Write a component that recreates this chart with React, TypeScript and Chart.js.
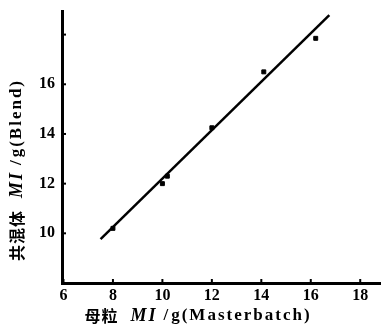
import React, { useEffect, useRef } from "react";
import { Chart, registerables } from "chart.js";

Chart.register(...registerables);

const masterbatchMI = [8, 10, 10.2, 12, 14.1, 16.2];
const blendMI = [10.2, 12.0, 12.3, 14.25, 16.5, 17.85];
const fitX = [7.5, 16.75];
const fitY = [9.77, 18.78];
const xTicks = [6, 8, 10, 12, 14, 16, 18];
const yTicks = [10, 12, 14, 16, 18];
const yLabelled = [10, 12, 14, 16];

const SERIF = "'Liberation Serif', 'DejaVu Serif', serif";
const CJK = "'Noto Sans CJK SC', sans-serif";

type Part = { text: string; font: string; ls: number; gap: number };

const xTitle: Part[] = [
  { text: "母粒", font: `bold 16px ${CJK}`, ls: 1, gap: 12 },
  { text: "MI", font: `italic bold 18px ${SERIF}`, ls: 2, gap: 6 },
  { text: "/", font: `bold 17px ${SERIF}`, ls: 0, gap: 3 },
  { text: "g(Masterbatch)", font: `bold 17px ${SERIF}`, ls: 2, gap: 0 },
];
const yTitle: Part[] = [
  { text: "共混体", font: `bold 16px ${CJK}`, ls: 1, gap: 12 },
  { text: "MI", font: `italic bold 18px ${SERIF}`, ls: 2, gap: 6 },
  { text: "/", font: `bold 17px ${SERIF}`, ls: 0, gap: 3 },
  { text: "g(Blend)", font: `bold 17px ${SERIF}`, ls: 2, gap: 0 },
];

function drawParts(ctx: CanvasRenderingContext2D, parts: Part[], cx: number, cy: number) {
  const c: any = ctx;
  let total = 0;
  const widths = parts.map((p) => {
    ctx.font = p.font;
    c.letterSpacing = p.ls + "px";
    const w = ctx.measureText(p.text).width;
    total += w + p.gap;
    return w;
  });
  let x = cx - total / 2;
  ctx.textBaseline = "middle";
  ctx.textAlign = "left";
  parts.forEach((p, i) => {
    ctx.font = p.font;
    c.letterSpacing = p.ls + "px";
    ctx.fillText(p.text, x, cy);
    x += widths[i] + p.gap;
  });
  c.letterSpacing = "0px";
}

const decorPlugin = {
  id: "decor",
  afterDraw(chart: any) {
    const ctx = chart.ctx as CanvasRenderingContext2D;
    const xs = chart.scales.x;
    const ys = chart.scales.y;
    const area = chart.chartArea;
    ctx.save();
    ctx.fillStyle = "#000";
    ctx.strokeStyle = "#000";
    ctx.lineWidth = 2;
    xTicks.forEach((v) => {
      const px = xs.getPixelForValue(v);
      ctx.beginPath();
      ctx.moveTo(px, area.bottom);
      ctx.lineTo(px, area.bottom - 4);
      ctx.stroke();
    });
    yTicks.forEach((v) => {
      const py = ys.getPixelForValue(v);
      ctx.beginPath();
      ctx.moveTo(area.left, py);
      ctx.lineTo(area.left + 4, py);
      ctx.stroke();
    });
    drawParts(ctx, xTitle, 198, 316);
    ctx.translate(17, 170);
    ctx.rotate(-Math.PI / 2);
    drawParts(ctx, yTitle, 0, 0);
    ctx.restore();
  },
};

export default function App() {
  const ref = useRef<HTMLCanvasElement | null>(null);
  useEffect(() => {
    if (!ref.current) return;
    const chart = new Chart(ref.current, {
      type: "scatter",
      data: {
        datasets: [
          {
            type: "line",
            data: fitX.map((x, i) => ({ x, y: fitY[i] })),
            borderColor: "#000",
            borderWidth: 2.5,
            pointRadius: 0,
            fill: false,
          } as any,
          {
            data: masterbatchMI.map((x, i) => ({ x, y: blendMI[i] })),
            backgroundColor: "#000",
            borderColor: "#000",
            pointStyle: "rect",
            pointRadius: 2.8,
          },
        ],
      },
      options: {
        responsive: false,
        animation: false,
        layout: { autoPadding: false, padding: { top: 11, right: 0, left: 0, bottom: 0 } },
        plugins: { legend: { display: false }, tooltip: { enabled: false } },
        scales: {
          x: {
            type: "linear",
            min: 5.94,
            max: 18.84,
            afterFit: (s: any) => {
              s.height = 44;
              s.paddingLeft = 0;
              s.paddingRight = 0;
            },
            afterBuildTicks: (s: any) => {
              s.ticks = xTicks.map((v) => ({ value: v }));
            },
            grid: { display: false, drawTicks: false, tickLength: 0 },
            border: { display: true, color: "#000", width: 3 },
            ticks: {
              color: "#000",
              padding: 3,
              maxRotation: 0,
              font: { family: SERIF, size: 16, weight: "bold" },
            },
          },
          y: {
            type: "linear",
            min: 8,
            max: 18.95,
            afterFit: (s: any) => {
              s.width = 62;
              s.paddingTop = 0;
              s.paddingBottom = 0;
            },
            afterBuildTicks: (s: any) => {
              s.ticks = yTicks.map((v) => ({ value: v }));
            },
            grid: { display: false, drawTicks: false, tickLength: 0 },
            border: { display: true, color: "#000", width: 3 },
            ticks: {
              color: "#000",
              padding: 7,
              callback: (v: any) => (yLabelled.includes(Number(v)) ? String(v) : ""),
              font: { family: SERIF, size: 16, weight: "bold" },
            },
          },
        },
      },
      plugins: [decorPlugin],
    });
    return () => chart.destroy();
  }, []);
  return (
    <div style={{ position: "absolute", left: 0, top: 0, width: 381, height: 327, background: "#fff" }}>
      <canvas ref={ref} width={381} height={327} />
    </div>
  );
}
